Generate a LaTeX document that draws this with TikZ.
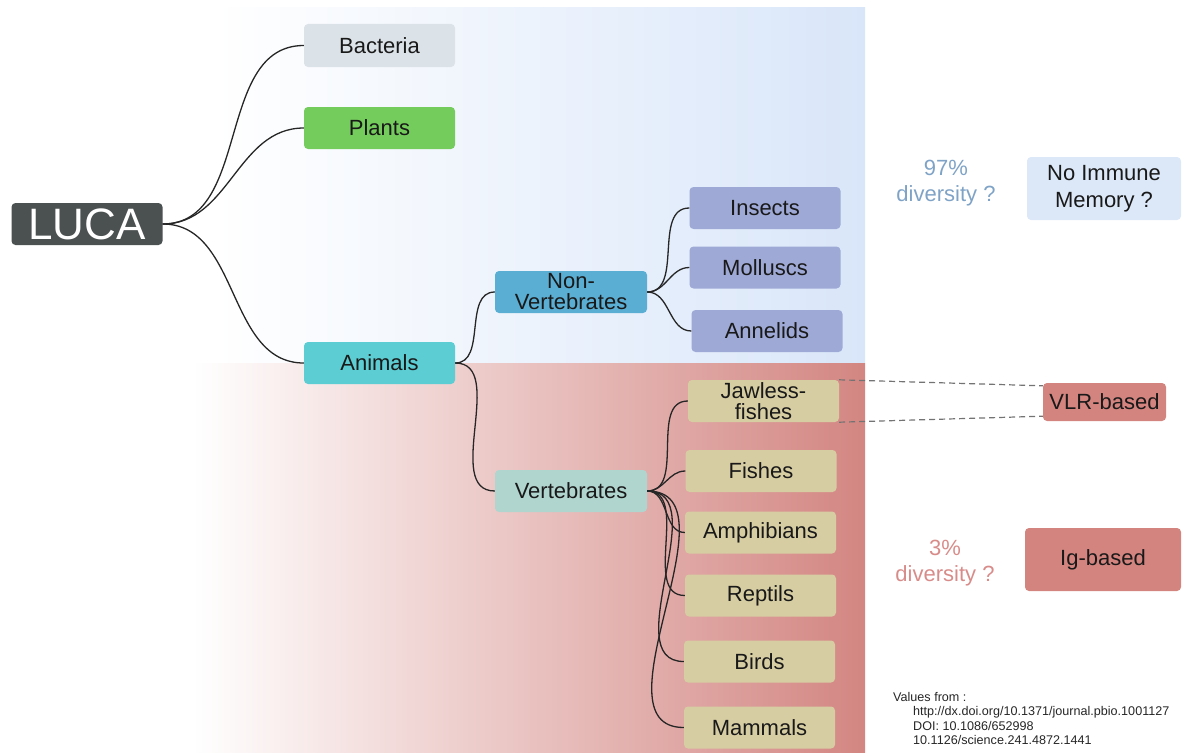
\documentclass[tikz,border=0pt]{standalone}
\usepackage{fontspec}
\setmainfont{Liberation Sans}
\usetikzlibrary{arrows.meta}

\definecolor{lucagray}{HTML}{4B5050}
\definecolor{bactgray}{HTML}{DCE3E8}
\definecolor{plantgreen}{HTML}{74CC5C}
\definecolor{animalcyan}{HTML}{5CCDD2}
\definecolor{nonvertblue}{HTML}{5AAED3}
\definecolor{vertmint}{HTML}{B0D5CF}
\definecolor{invlilac}{HTML}{9EA9D6}
\definecolor{vertsand}{HTML}{D7CDA2}
\definecolor{bandblue}{HTML}{D9E6F9}
\definecolor{bandred}{HTML}{D38682}
\definecolor{memblue}{HTML}{DCE8F8}
\definecolor{basedred}{HTML}{D4847F}
\definecolor{divblue}{HTML}{7FA3C6}
\definecolor{divred}{HTML}{D88C8A}

\begin{document}
\begin{tikzpicture}[x=1pt,y=-1pt,
  taxon/.style={rounded corners=4pt,minimum width=151pt,minimum height=42pt,inner sep=0pt,align=center,text=black!90,font=\fontsize{22}{21}\selectfont},
  link/.style={line width=1.3pt,draw=black!85},
  guide/.style={line width=1.2pt,draw=black!55,dash pattern=on 6pt off 4pt}]
\path[use as bounding box] (0,0) rectangle (1182,752);
% background bands
\shade[left color=white,right color=bandblue] (215,8) rectangle (865,363);
\shade[left color=white,right color=bandred] (193,363) rectangle (865,752);
% tree
\node[taxon,fill=lucagray,text=white,font=\fontsize{44}{44}\selectfont] (luca) at (87,224) {LUCA};
\node[taxon,fill=bactgray,minimum height=43pt] (bacteria) at (379.5,45.5) {Bacteria};
\node[taxon,fill=plantgreen] (plants) at (379.5,128) {Plants};
\node[taxon,fill=animalcyan] (animals) at (379.5,363) {Animals};
\node[taxon,fill=nonvertblue,minimum width=152pt] (nonvert) at (571,292) {Non-\\Vertebrates};
\node[taxon,fill=vertmint,minimum width=152pt] (vert) at (571,491) {Vertebrates};
\node[taxon,fill=invlilac] (insects) at (765,208) {Insects};
\node[taxon,fill=invlilac] (molluscs) at (765,267.5) {Molluscs};
\node[taxon,fill=invlilac] (annelids) at (767,331) {Annelids};
\node[taxon,fill=vertsand] (jawless) at (763.5,401) {Jawless-\\fishes};
\node[taxon,fill=vertsand] (fishes) at (761,471) {Fishes};
\node[taxon,fill=vertsand] (amphibians) at (760.5,532.5) {Amphibians};
\node[taxon,fill=vertsand] (reptils) at (760.5,595.5) {Reptils};
\node[taxon,fill=vertsand] (birds) at (759.5,661.5) {Birds};
\node[taxon,fill=vertsand] (mammals) at (759.5,727.5) {Mammals};
\draw[link] (luca.east) to[out=0,in=180] (bacteria.west);
\draw[link] (luca.east) to[out=0,in=180] (plants.west);
\draw[link] (luca.east) to[out=0,in=180] (animals.west);
\draw[link] (animals.east) to[out=0,in=180] (nonvert.west);
\draw[link] (animals.east) to[out=0,in=180] (vert.west);
\draw[link] (nonvert.east) to[out=0,in=180] (insects.west);
\draw[link] (nonvert.east) to[out=0,in=180] (molluscs.west);
\draw[link] (nonvert.east) to[out=0,in=180] (annelids.west);
\draw[link] (vert.east) to[out=0,in=180] (jawless.west);
\draw[link] (vert.east) to[out=0,in=180] (fishes.west);
\draw[link] (vert.east) to[out=0,in=180] (amphibians.west);
\draw[link] (vert.east) to[out=0,in=180] (reptils.west);
\draw[link] (vert.east) to[out=0,in=180] (birds.west);
\draw[link] (vert.east) to[out=0,in=180] (mammals.west);
% immune memory side
\node[align=center,text=divblue,font=\fontsize{22}{26}\selectfont] (div97) at (946,183) {97\%\\diversity ?};
\node[taxon,fill=memblue,minimum width=154pt,minimum height=63pt,font=\fontsize{22}{27}\selectfont] (nomemory) at (1104,188.5) {No Immune\\Memory ?};
\node[taxon,fill=basedred,minimum width=123pt,minimum height=38pt] (vlr) at (1104.5,402) {VLR-based};
\node[align=center,text=divred,font=\fontsize{22}{26}\selectfont] (div3) at (945,563) {3\%\\diversity ?};
\node[taxon,fill=basedred,minimum width=156pt,minimum height=63pt] (igbased) at (1103,559.5) {Ig-based};
\draw[guide] (jawless.north east) -- ([yshift=-3pt]vlr.north west);
\draw[guide] (jawless.south east) -- ([yshift=5pt]vlr.south west);
% sources
\node[anchor=north west,inner sep=0pt,align=left,text=black!85,font=\fontsize{12.6}{14.5}\selectfont] (refs) at (893,692) {Values from :\\
\hspace*{20pt}http://dx.doi.org/10.1371/journal.pbio.1001127\\
\hspace*{20pt}DOI: 10.1086/652998\\
\hspace*{20pt}10.1126/science.241.4872.1441};
\end{tikzpicture}
\end{document}
